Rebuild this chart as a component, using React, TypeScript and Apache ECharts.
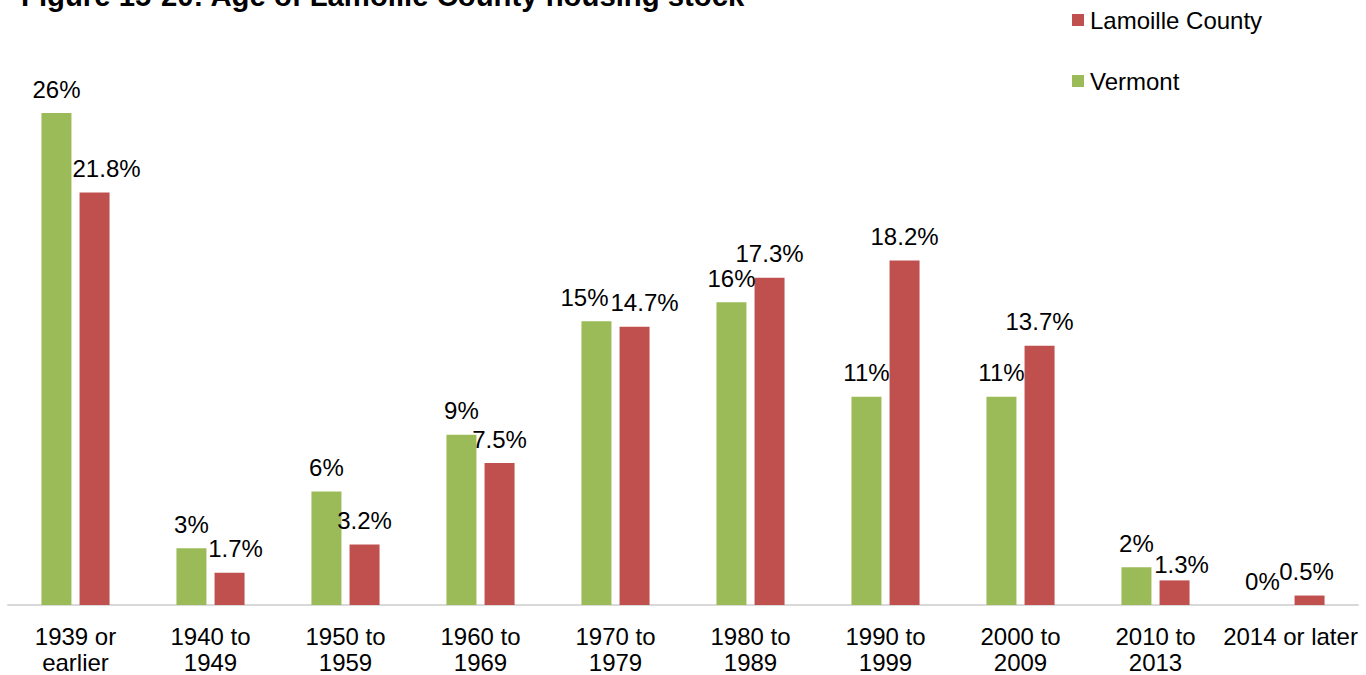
import React, { useEffect, useRef } from "react";
import * as echarts from "echarts";

const categories = [
  "1939 or\nearlier",
  "1940 to\n1949",
  "1950 to\n1959",
  "1960 to\n1969",
  "1970 to\n1979",
  "1980 to\n1989",
  "1990 to\n1999",
  "2000 to\n2009",
  "2010 to\n2013",
  "2014 or later",
];
const vermontValues = [26, 3, 6, 9, 15, 16, 11, 11, 2, 0];
const lamoilleValues = [21.8, 1.7, 3.2, 7.5, 14.7, 17.3, 18.2, 13.7, 1.3, 0.5];
const vermontLabels = ["26%", "3%", "6%", "9%", "15%", "16%", "11%", "11%", "2%", "0%"];
const lamoilleLabels = ["21.8%", "1.7%", "3.2%", "7.5%", "14.7%", "17.3%", "18.2%", "13.7%", "1.3%", "0.5%"];

// label nudges (as placed in the original chart to avoid overlaps)
const vermontLabelShift = [[0, 0], [0, 0], [0, 0], [0, 0], [-12, 0], [0, 0], [0, 0], [0, 0], [0, 0], [-9, 0]];
const lamoilleLabelShift = [[12, 0], [6, 0], [0, 0], [0, 0], [10, 0], [0, 0], [0, 0], [0, 0], [7, 8], [-3, 0]];

const FONT = "'Liberation Sans', Arial, sans-serif";

export default function App() {
  const ref = useRef<HTMLDivElement>(null);
  useEffect(() => {
    document.body.style.margin = "0";
    const chart = echarts.init(ref.current!, undefined, { renderer: "svg" });
    const labelBase = {
      show: true,
      position: "top",
      distance: 12,
      fontSize: 24,
      color: "#000",
      fontFamily: FONT,
    };
    chart.setOption({
      animation: false,
      textStyle: { fontFamily: FONT },
      title: {
        text: "Figure 15-20: Age of Lamoille County housing stock",
        left: 16,
        top: -24,
        textStyle: { fontFamily: FONT, fontSize: 29.3, fontWeight: "bold", color: "#000" },
      },
      legend: {
        orient: "vertical",
        left: 1072,
        top: 8,
        padding: 0,
        itemWidth: 12,
        itemHeight: 12,
        itemGap: 37,
        icon: "rect",
        data: ["Lamoille County", "Vermont"],
        textStyle: { fontFamily: FONT, fontSize: 24, color: "#000", padding: [0, 0, 0, 1] },
      },
      grid: { left: 8, right: 8, top: 113, bottom: 68, containLabel: false },
      xAxis: {
        type: "category",
        data: categories,
        axisLine: { lineStyle: { color: "#d9d9d9", width: 2 } },
        axisTick: { show: false },
        axisLabel: {
          interval: 0,
          margin: 18,
          fontSize: 24,
          lineHeight: 26,
          color: "#000",
          fontFamily: FONT,
        },
      },
      yAxis: {
        type: "value",
        min: 0,
        max: 26,
        show: false,
        splitLine: { show: false },
      },
      series: [
        {
          name: "Vermont",
          type: "bar",
          data: vermontValues.map((v, i) => ({ value: v, label: { offset: vermontLabelShift[i] } })),
          barWidth: 30,
          barGap: "27%",
          itemStyle: { color: "#9BBB59" },
          label: { ...labelBase, formatter: (p: any) => vermontLabels[p.dataIndex] },
        },
        {
          name: "Lamoille County",
          type: "bar",
          data: lamoilleValues.map((v, i) => ({ value: v, label: { offset: lamoilleLabelShift[i] } })),
          barWidth: 30,
          itemStyle: { color: "#C0504D" },
          label: { ...labelBase, formatter: (p: any) => lamoilleLabels[p.dataIndex] },
        },
      ],
    });
    return () => chart.dispose();
  }, []);
  return <div ref={ref} style={{ width: 1366, height: 675 }} />;
}
